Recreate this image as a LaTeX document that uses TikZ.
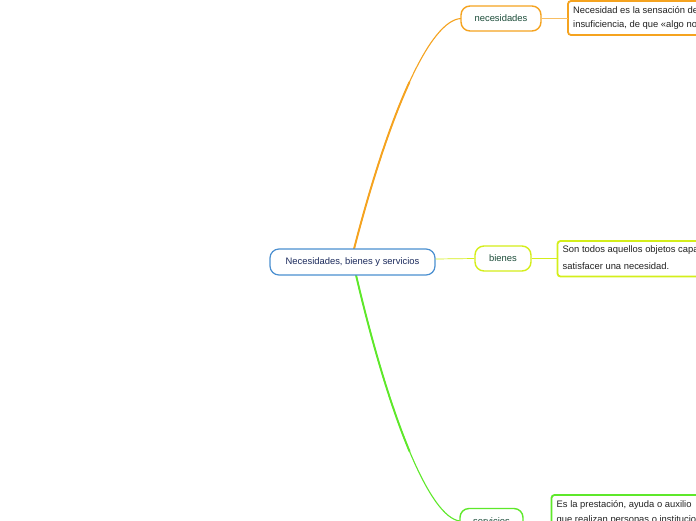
\documentclass[tikz,border=0pt]{standalone}
\usepackage{fontspec}
\setmainfont{Liberation Sans}
\definecolor{cblue}{HTML}{4A8FD0}
\definecolor{corange}{HTML}{F5A31F}
\definecolor{cyellow}{HTML}{D4EE1A}
\definecolor{cgreen}{HTML}{5EE82A}
\definecolor{cnavy}{HTML}{1B2A5C}
\definecolor{cteal}{HTML}{1D4D3A}
\definecolor{ctext}{HTML}{222222}
\tikzset{
  txt/.style={font=\fontsize{9.4}{11}\selectfont},
  central/.style={draw=cblue, line width=1.2pt, rounded corners=9pt, fill=white, text=cnavy, txt, minimum width=165pt, minimum height=26pt, inner sep=0pt},
  topic/.style={draw=#1, line width=1.4pt, rounded corners=9pt, fill=white, text=cteal, txt, minimum height=25pt, inner sep=0pt},
  descbox/.style={draw=#1, line width=1.8pt, rounded corners=3pt, fill=white},
  desctext/.style={txt, text=ctext, anchor=west, inner sep=0pt},
}
\begin{document}
\begin{tikzpicture}[x=1pt,y=-1pt]
\useasboundingbox (0,0) rectangle (696,520);
\clip (0,0) rectangle (696,520);
\fill[white] (0,0) rectangle (696,520);
% coordinates on central
\coordinate (ct) at (354,249);
\coordinate (cb) at (356,275);
% curves (drawn first, nodes on top)
\draw[corange, line width=1.1pt] (ct) .. controls (390,110) and (430,20) .. (461,18.5);
\draw[corange, line width=1.9pt, line cap=round] (ct) .. controls (372,179.5) and (391,122.25) .. (409.4,82.2);
\draw[cgreen, line width=1.1pt] (cb) .. controls (390,420) and (430,518) .. (460,521);
\draw[cgreen, line width=1.9pt, line cap=round] (cb) .. controls (373,347.5) and (391.5,408.25) .. (409.5,451.25);
% central
\node[central] (c) at (352.5,262) {Necesidades, bienes y servicios};
% topics
\node[topic=corange, minimum width=80pt] (nec) at (501,18.5) {necesidades};
\node[topic=cyellow, minimum width=56pt] (bie) at (503,258.5) {bienes};
\node[topic=cgreen, minimum width=63pt] (ser) at (491.5,521) {servicios};
\draw[cyellow, line width=0.7pt] (c.east |- 0,259) -- (bie.west);
% description boxes
\draw[descbox=corange] (568,1) rectangle (720,35);
\coordinate (nd) at (568,18.5);
\node[desctext] (nt1) at (573,10) {Necesidad es la sensación de};
\node[desctext] (nt2) at (573,25.5) {insuficiencia, de que «algo nos};
\draw[descbox=cyellow] (557.5,241) rectangle (720,276.5);
\coordinate (bd) at (557.5,258.5);
\node[desctext] (bt1) at (562.5,250.5) {Son todos aquellos objetos capaces};
\node[desctext] (bt2) at (562.5,266.5) {satisfacer una necesidad.};
\draw[descbox=cgreen] (551.5,495) rectangle (720,560);
\coordinate (sd) at (551.5,521);
\node[desctext] (st1) at (556.5,505) {Es la prestación, ayuda o auxilio};
\node[desctext] (st2) at (556.5,520.5) {que realizan personas o instituciones};
% connectors topic -> description
\draw[corange!70, line width=0.6pt] (nec.east) -- (nd);
\draw[cyellow, line width=0.6pt] (bie.east) -- (bd);
\draw[cgreen, line width=0.6pt] (ser.east) -- (sd);
\end{tikzpicture}
\end{document}
